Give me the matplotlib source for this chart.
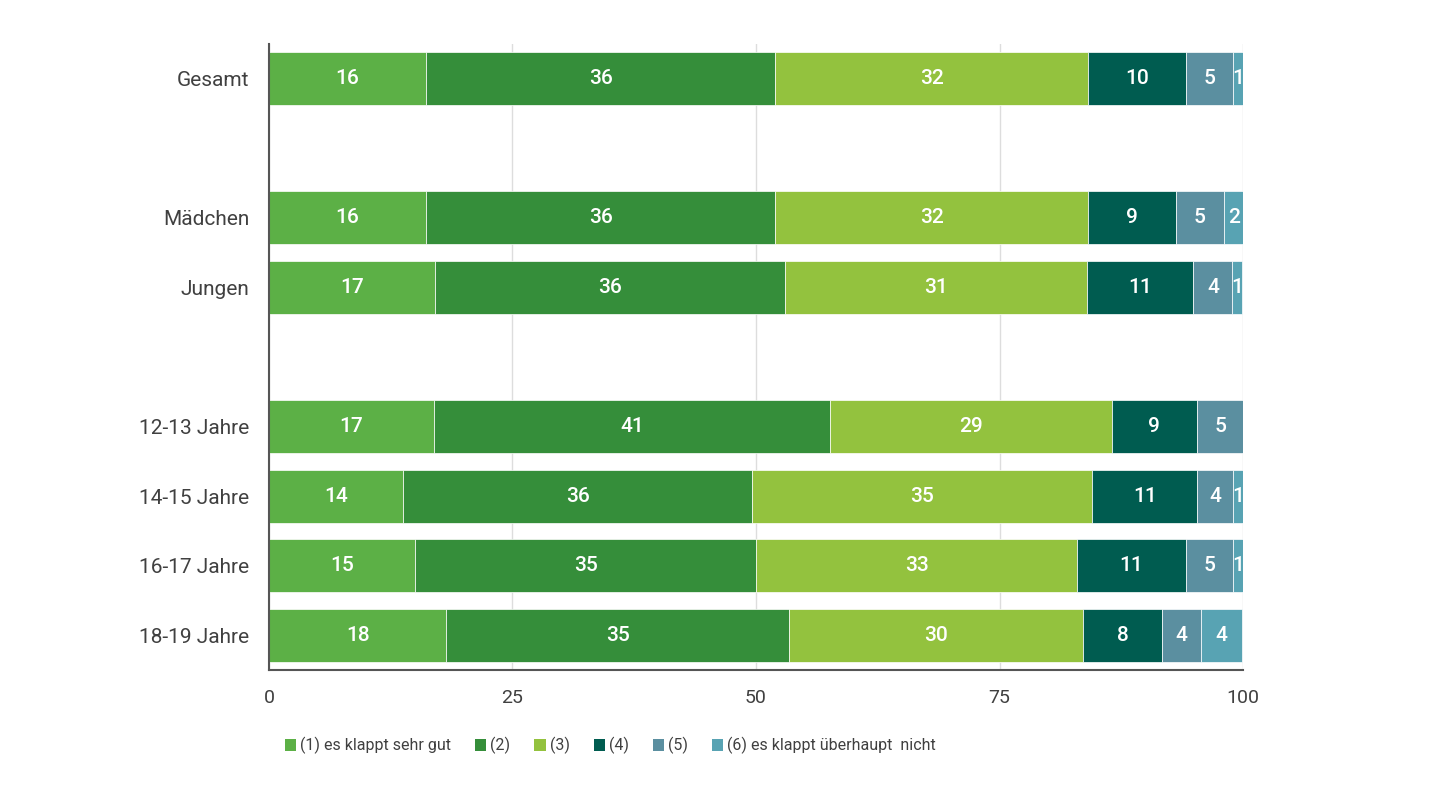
import numpy as np
import matplotlib.pyplot as plt
from matplotlib.patches import Patch

plt.rcParams['font.family'] = ['Roboto', 'DejaVu Sans']

# rows from top to bottom, "" = empty spacer row
groups = ["Gesamt", "", "Mädchen", "Jungen", "", "12-13 Jahre", "14-15 Jahre", "16-17 Jahre", "18-19 Jahre"]

legend_labels = ["(1) es klappt sehr gut", "(2)", "(3)", "(4)", "(5)", "(6) es klappt überhaupt  nicht"]
colors = ["#5cb046", "#358e3a", "#93c23e", "#005c50", "#5b8fa0", "#58a3b3"]

# percent per answer category (1)..(6), one list per row, None for spacer rows
s1 = [16.1, None, 16.1, 17.0, None, 16.9, 13.8, 15.0, 18.2]
s2 = [35.9, None, 35.9, 36.0, None, 40.7, 35.8, 35.0, 35.2]
s3 = [32.1, None, 32.1, 31.0, None, 28.9, 34.9, 33.0, 30.2]
s4 = [10.0, None, 9.0, 10.9, None, 8.8, 10.8, 11.1, 8.1]
s5 = [4.9, None, 4.9, 4.0, None, 4.7, 3.7, 4.9, 4.0]
s6 = [1.0, None, 2.1, 1.0, None, 0.0, 1.0, 1.0, 4.2]
series = [s1, s2, s3, s4, s5, s6]

fig = plt.figure(figsize=(14.4, 7.85), dpi=100)
ax = fig.add_axes([0.1868, 0.1465, 0.6764, 0.7975])

y = np.arange(len(groups))
left = np.zeros(len(groups))
for vals, col in zip(series, colors):
    v = np.array([0 if x is None else x for x in vals], dtype=float)
    bars = ax.barh(y, v, left=left, height=0.76, color=col, edgecolor="white",
                   linewidth=0.5, zorder=3)
    for i, b in enumerate(bars):
        if v[i] > 0:
            ax.text(left[i] + v[i] / 2, y[i], f"{v[i]:.0f}", ha="center", va="center",
                    color="white", fontsize=15, fontweight="medium", zorder=4)
    left += v

ax.set_xlim(0, 100)
ax.set_ylim(len(groups) - 0.5, -0.5)
ax.set_xticks([0, 25, 50, 75, 100])
ax.set_yticks(y)
ax.set_yticklabels(groups)
ax.tick_params(axis="both", length=0, labelsize=14, colors="#404040")
ax.tick_params(axis="y", pad=14, labelsize=15)
ax.tick_params(axis="x", pad=14)
ax.grid(axis="x", color="#dddddd", linewidth=1, zorder=0)
for s in ["top", "right"]:
    ax.spines[s].set_visible(False)
for s in ["left", "bottom"]:
    ax.spines[s].set_color("#555555")
    ax.spines[s].set_linewidth(1.5)
    ax.spines[s].set_zorder(6)

handles = [Patch(facecolor=c, edgecolor="none") for c in colors]
fig.legend(handles, legend_labels, loc="center left", bbox_to_anchor=(0.188, 0.05),
           ncol=6, frameon=False, fontsize=11.5, handlelength=0.7, handleheight=0.7,
           handletextpad=0.25, columnspacing=1.5, labelcolor="#404040")

fig.savefig("out.png", dpi=100)
